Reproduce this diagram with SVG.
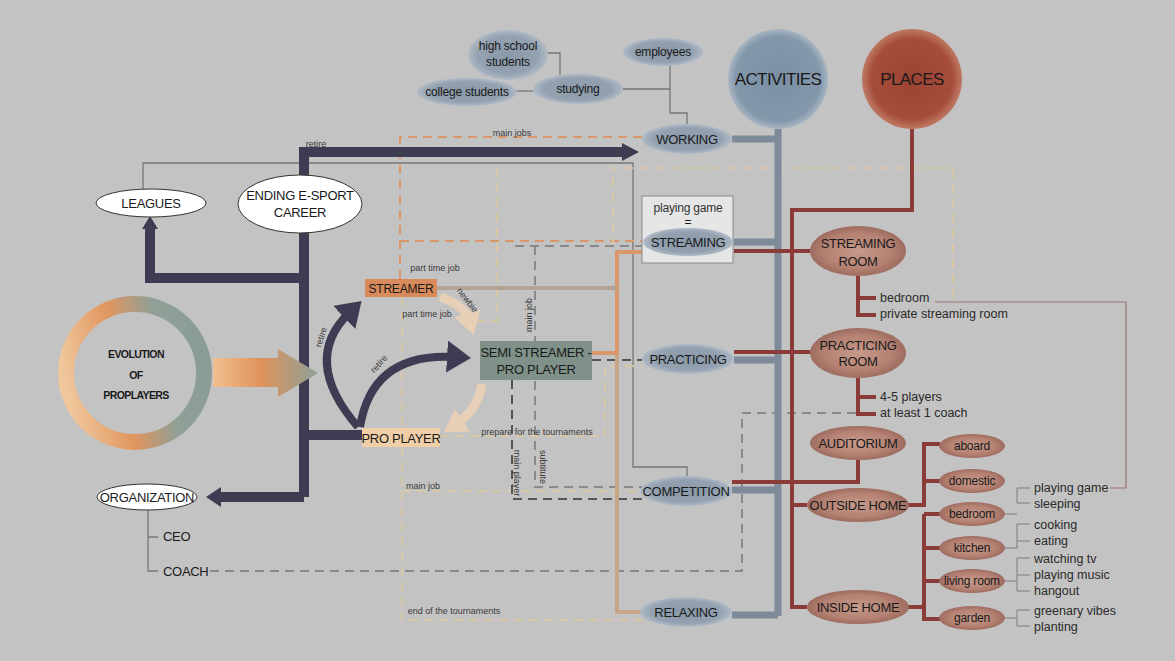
<svg xmlns="http://www.w3.org/2000/svg" width="1175" height="661" viewBox="0 0 1175 661">
<defs>
<style>
text{font-family:"Liberation Sans",Arial,sans-serif;fill:#1a1a1a;text-anchor:middle}
.n{font-size:13px;letter-spacing:-0.3px}
.s{font-size:12px;letter-spacing:-0.2px}
.lab{font-size:9px;fill:#3a3a3a}
.lst{font-size:12.5px;fill:#2a2a2a;text-anchor:start}
.nav{fill:none;stroke:#3d3c52;stroke-width:10}
.navc{fill:none;stroke:#3d3c52;stroke-width:8}
.blu{fill:none;stroke:#7d8a9a;stroke-width:7}
.red{fill:none;stroke:#8b3b38;stroke-width:4}
.thin{fill:none;stroke:#777;stroke-width:1.3}
.gthin{fill:none;stroke:#7c7c7c;stroke-width:1}
.dor{fill:none;stroke:#d9976c;stroke-width:2;stroke-dasharray:9 6}
.dpl{fill:none;stroke:#d8c8a8;stroke-width:2;stroke-dasharray:9 6}
.dgr{fill:none;stroke:#8a8a8a;stroke-width:2;stroke-dasharray:9 6}
.ddk{fill:none;stroke:#555;stroke-width:2;stroke-dasharray:9 6}
.bl{fill:url(#gBlue)}
.br{fill:url(#gBrown)}
.wh{fill:#fff;stroke:#333;stroke-width:1}
.ev{font-size:10.5px;font-weight:bold;letter-spacing:-0.6px}
.big{font-size:17px;letter-spacing:-0.6px}
</style>
<radialGradient id="gBlue" cx="0.5" cy="0.5" r="0.5">
<stop offset="0" stop-color="#8a99a9"/><stop offset="0.75" stop-color="#93a1b0"/><stop offset="1" stop-color="#b0bbc6"/>
</radialGradient>
<radialGradient id="gBrown" cx="0.5" cy="0.5" r="0.5">
<stop offset="0" stop-color="#c79a8b"/><stop offset="0.7" stop-color="#b48172"/><stop offset="1" stop-color="#9e6c60"/>
</radialGradient>
<radialGradient id="gAct" cx="0.5" cy="0.5" r="0.5">
<stop offset="0" stop-color="#7b8fa4"/><stop offset="0.85" stop-color="#8498ac"/><stop offset="1" stop-color="#a9b6c2"/>
</radialGradient>
<radialGradient id="gPla" cx="0.5" cy="0.5" r="0.5">
<stop offset="0" stop-color="#9c4333"/><stop offset="0.8" stop-color="#a54c3b"/><stop offset="1" stop-color="#be7a63"/>
</radialGradient>
<linearGradient id="gRing" x1="0" y1="0.6" x2="1" y2="0.4">
<stop offset="0" stop-color="#f0c79c"/><stop offset="0.4" stop-color="#e1955f"/><stop offset="0.72" stop-color="#8fa097"/><stop offset="1" stop-color="#8a9d95"/>
</linearGradient>
<linearGradient id="gArr" x1="213" y1="0" x2="318" y2="0" gradientUnits="userSpaceOnUse">
<stop offset="0" stop-color="#f0c090"/><stop offset="0.45" stop-color="#e0925c"/><stop offset="1" stop-color="#8fa097"/>
</linearGradient>
<marker id="mNav" markerWidth="4" markerHeight="4" refX="1" refY="2" orient="auto" markerUnits="strokeWidth">
<path d="M0,0 L3,2 L0,4 Z" fill="#3d3c52"/>
</marker>
<marker id="mPeach" markerWidth="3" markerHeight="3" refX="1" refY="1.5" orient="auto" markerUnits="strokeWidth">
<path d="M0,0 L2.5,1.5 L0,3 Z" fill="#ecd2b6"/>
</marker>
</defs>
<rect width="1175" height="661" fill="#c3c3c3"/>

<g id="connectors">
<!-- thin gray lines -->
<path class="thin" d="M143 189 V163 H633 V467 H687 V477"/>
<path class="thin" d="M547 53 H560 V75"/>
<path class="thin" d="M516 91 H533"/>
<path class="thin" d="M623 89 H670 V113 H687 V124"/>
<path class="thin" d="M670 66 V89"/>
<!-- dashed lines -->
<path class="dor" d="M642 137 H400 V279"/>
<path class="dor" d="M400 241 H642"/>
<path class="dpl" d="M953 298 V168 H613 V250"/>
<path class="dpl" d="M497 168 V321 H470"/>
<path class="dpl" d="M402 297 V620 H642"/>
<path class="dpl" d="M440 436 H605 V366 H642"/>
<path class="dpl" d="M402 491 H642"/>
<path class="dgr" d="M515 246 H642"/>
<path class="dgr" d="M535 246 V487 H642"/>
<path class="ddk" d="M512 380 V499 H642"/>
<path class="ddk" d="M592 360 H642"/>
<path class="dgr" d="M210 571 H742 V413 H856"/>
<!-- tan / orange solid -->
<path fill="none" stroke="#c8a586" stroke-width="4" d="M617 353 V612 H645"/>
<path fill="none" stroke="#d9976c" stroke-width="4" d="M642 252 H617 V353 H592"/>
<path fill="none" stroke="#b2a394" stroke-width="4" d="M437 288 H617"/>
<!-- activities blue -->
<path class="blu" d="M778 129 V616"/>
<path class="blu" d="M732 139 H778 M734 242 H778 M734 360 H778 M732 490 H778 M732 615 H778"/>
<!-- places red -->
<path class="red" d="M912 129 V210 H792 V607 H807"/>
<path class="red" d="M734 251 H810 M734 352 H810 M732 482 H858 V460 M792 505 H807"/>
<path class="red" d="M858 276 V315 H876 M858 298 H876"/>
<path class="red" d="M858 378 V414 H876 M858 397 H876"/>
<path class="red" d="M908 505 H924 V444 H940 M924 481 H940"/>
<path class="red" d="M908 607 H924 M924 514 V619 H940 M924 514 H940 M924 548 H940 M924 581 H940"/>
<!-- gray brackets -->
<path class="gthin" d="M1005 514 H1017 M1017 488 V503 M1017 488 H1030 M1017 503 H1030"/>
<path class="gthin" d="M1005 548 H1017 V524 M1017 524 H1030 M1017 541 H1030"/>
<path class="gthin" d="M1005 581 H1017 M1017 558 V591 M1017 558 H1030 M1017 575 H1030 M1017 591 H1030"/>
<path class="gthin" d="M1005 618 H1017 M1017 610 V626 M1017 610 H1030 M1017 626 H1030"/>
<path fill="none" stroke="#a07272" stroke-width="1.2" d="M935 302 H1126 V488 H1110"/>
<!-- org lines -->
<path class="thin" d="M148 510 V571 H158 M148 537 H158"/>
<!-- navy thick -->
<path class="nav" d="M304 497 V152 H624"/>
<polygon points="622,143 639,152 622,161" fill="#3d3c52"/>
<path class="nav" d="M304 497 H220"/>
<polygon points="221,487 206,497 221,507" fill="#3d3c52"/>
<path class="nav" d="M304 278 H150 V228"/>
<polygon points="142,229 150,216 158,229" fill="#3d3c52"/>
<path class="nav" d="M304 435 H362"/>
<path class="navc" d="M358 427 Q 300 360 350 312" marker-end="url(#mNav)"/>
<path class="navc" d="M360 427 Q 372 352 455 357" marker-end="url(#mNav)"/>
<!-- peach curves -->
<path fill="none" stroke="#ecd2b6" stroke-width="9" opacity="0.9" d="M440 297 Q 465 305 470 322" marker-end="url(#mPeach)"/>
<path fill="none" stroke="#ecd2b6" stroke-width="9" opacity="0.9" d="M482 384 Q 478 410 455 425" marker-end="url(#mPeach)"/>
<!-- evolution arrow -->
<polygon points="213,358 278,358 278,349 318,373 278,397 278,387 213,387" fill="url(#gArr)"/>
<!-- labels -->
<text class="lab" x="316" y="147">retire</text>
<text class="lab" x="512" y="136">main jobs</text>
<text class="lab" x="435" y="271">part time job</text>
<text class="lab" x="427" y="317">part time job</text>
<text class="lab" transform="translate(465,302) rotate(52)">newbie</text>
<text class="lab" transform="translate(532,315) rotate(-90)">main job</text>
<text class="lab" transform="translate(324,338) rotate(-72)">retire</text>
<text class="lab" transform="translate(381,366) rotate(-48)">retire</text>
<text class="lab" x="537" y="435">prepare for the tournaments</text>
<text class="lab" x="423" y="489">main job</text>
<text class="lab" transform="translate(514,473) rotate(90)">main player</text>
<text class="lab" transform="translate(540,467) rotate(90)">subtitute</text>
<text class="lab" x="454" y="614">end of the tournaments</text>
</g>

<g id="evolution">
<circle cx="135" cy="373" r="69" fill="none" stroke="url(#gRing)" stroke-width="16"/>
<text class="ev" x="136" y="358">EVOLUTION</text>
<text class="ev" x="136" y="379">OF</text>
<text class="ev" x="136" y="399">PROPLAYERS</text>
</g>
<g id="leagues"><ellipse class="wh" cx="151" cy="203" rx="55" ry="14"/><text class="n" x="151" y="208">LEAGUES</text></g>
<g id="ending"><ellipse class="wh" cx="300" cy="204" rx="62" ry="29"/><text class="n" x="300" y="200">ENDING E-SPORT</text><text class="n" x="300" y="217">CAREER</text></g>
<g id="organization"><ellipse class="wh" cx="147" cy="497" rx="50" ry="13"/><text class="n" x="147" y="502">ORGANIZATION</text></g>
<g id="ceo"><text class="n" x="163" y="541" style="text-anchor:start">CEO</text></g>
<g id="coach"><text class="n" x="163" y="576" style="text-anchor:start">COACH</text></g>

<g id="streamer"><rect x="365" y="279" width="72" height="18" fill="#d98a5a"/><text class="s" x="401" y="293">STREAMER</text></g>
<g id="semi"><rect x="480" y="341" width="112" height="39" fill="#7f9188"/><text class="n" x="536" y="357">SEMI STREAMER -</text><text class="n" x="536" y="374">PRO PLAYER</text></g>
<g id="proplayer"><rect x="362" y="428" width="78" height="19" fill="#f0cfa8"/><text class="n" x="401" y="443">PRO PLAYER</text></g>

<g id="highschool"><ellipse class="bl" cx="508" cy="55" rx="40" ry="25"/><text class="s" x="508" y="50">high school</text><text class="s" x="508" y="66">students</text></g>
<g id="college"><ellipse class="bl" cx="467" cy="92" rx="50" ry="14"/><text class="s" x="467" y="96">college students</text></g>
<g id="studying"><ellipse class="bl" cx="578" cy="89" rx="45" ry="15"/><text class="s" x="578" y="93">studying</text></g>
<g id="employees"><ellipse class="bl" cx="663" cy="52" rx="40" ry="14"/><text class="s" x="663" y="56">employees</text></g>
<g id="working"><ellipse class="bl" cx="687" cy="139" rx="45" ry="15"/><text class="n" x="687" y="144">WORKING</text></g>
<g id="activities"><circle cx="778" cy="79" r="50" fill="url(#gAct)"/><text class="big" x="778" y="85">ACTIVITIES</text></g>
<g id="places"><circle cx="912" cy="79" r="50" fill="url(#gPla)"/><text class="big" x="912" y="85">PLACES</text></g>

<g id="streaming"><rect x="642" y="196" width="91" height="67" fill="#e6e6e6" stroke="#8a8a8a"/><text class="s" x="688" y="212" style="fill:#333">playing game</text><text class="s" x="688" y="226">=</text><ellipse class="bl" cx="688" cy="242" rx="45" ry="14"/><text class="n" x="688" y="247">STREAMING</text></g>
<g id="practicing"><ellipse class="bl" cx="688" cy="359" rx="46" ry="15"/><text class="n" x="688" y="364">PRACTICING</text></g>
<g id="competition"><ellipse class="bl" cx="686" cy="491" rx="46" ry="15"/><text class="n" x="686" y="496">COMPETITION</text></g>
<g id="relaxing"><ellipse class="bl" cx="686" cy="612" rx="46" ry="15"/><text class="n" x="686" y="617">RELAXING</text></g>

<g id="streamingroom"><ellipse class="br" cx="858" cy="251" rx="48" ry="25"/><text class="n" x="858" y="248">STREAMING</text><text class="n" x="858" y="266">ROOM</text></g>
<g id="practicingroom"><ellipse class="br" cx="858" cy="353" rx="48" ry="25"/><text class="n" x="858" y="350">PRACTICING</text><text class="n" x="858" y="366">ROOM</text></g>
<g id="auditorium"><ellipse class="br" cx="858" cy="443" rx="48" ry="17"/><text class="n" x="858" y="448">AUDITORIUM</text></g>
<g id="outside"><ellipse class="br" cx="858" cy="505" rx="51" ry="17"/><text class="n" x="858" y="510">OUTSIDE HOME</text></g>
<g id="inside"><ellipse class="br" cx="858" cy="607" rx="51" ry="17"/><text class="n" x="858" y="612">INSIDE HOME</text></g>
<g id="aboard"><ellipse class="br" cx="972" cy="446" rx="33" ry="12"/><text class="s" x="972" y="450">aboard</text></g>
<g id="domestic"><ellipse class="br" cx="972" cy="481" rx="33" ry="12"/><text class="s" x="972" y="485">domestic</text></g>
<g id="bedroom"><ellipse class="br" cx="972" cy="514" rx="33" ry="12"/><text class="s" x="972" y="518">bedroom</text></g>
<g id="kitchen"><ellipse class="br" cx="972" cy="548" rx="33" ry="12"/><text class="s" x="972" y="552">kitchen</text></g>
<g id="livingroom"><ellipse class="br" cx="972" cy="581" rx="33" ry="12"/><text class="s" x="972" y="585">living room</text></g>
<g id="garden"><ellipse class="br" cx="972" cy="618" rx="33" ry="12"/><text class="s" x="972" y="622">garden</text></g>

<g id="lists">
<text class="lst" x="880" y="302">bedroom</text>
<text class="lst" x="880" y="318">private streaming room</text>
<text class="lst" x="880" y="401">4-5 players</text>
<text class="lst" x="880" y="417">at least 1 coach</text>
<text class="lst" x="1034" y="492">playing game</text>
<text class="lst" x="1034" y="508">sleeping</text>
<text class="lst" x="1034" y="529">cooking</text>
<text class="lst" x="1034" y="545">eating</text>
<text class="lst" x="1034" y="563">watching tv</text>
<text class="lst" x="1034" y="579">playing music</text>
<text class="lst" x="1034" y="595">hangout</text>
<text class="lst" x="1034" y="615">greenary vibes</text>
<text class="lst" x="1034" y="631">planting</text>
</g>
</svg>
